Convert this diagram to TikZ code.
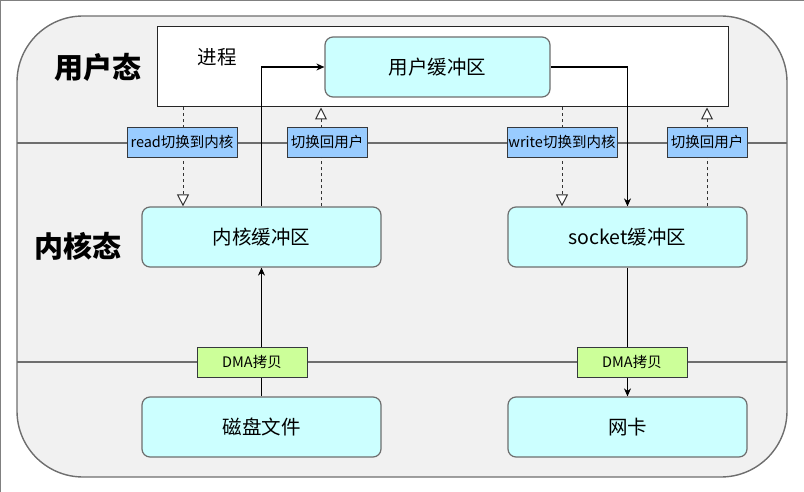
\documentclass[tikz,border=0pt]{standalone}
\usepackage{fontspec}
\setmainfont{Noto Sans CJK SC}
\usetikzlibrary{arrows.meta}
\definecolor{cfond}{RGB}{241,241,241}
\definecolor{ccyan}{RGB}{204,255,255}
\definecolor{cbleu}{RGB}{153,204,255}
\definecolor{cvert}{RGB}{204,255,153}
\definecolor{cgris}{RGB}{110,110,110}
\definecolor{ctrait}{RGB}{54,57,61}
\pgfdeclarelayer{fond}
\pgfdeclarelayer{liens}
\pgfsetlayers{fond,liens,main}

\begin{document}
\begin{tikzpicture}[x=1pt, y=-1pt, >={Stealth[length=8pt,width=7pt]},
  boite/.style={draw=cgris, line width=1.2pt, fill=ccyan, rounded corners=8pt,
    minimum width=239pt, minimum height=60pt, inner sep=0pt, font=\fontsize{19.5}{22}\selectfont},
  bascule/.style={draw=ctrait, line width=0.9pt, fill=cbleu, minimum height=30pt,
    inner sep=0pt, font=\fontsize{14.5}{16}\selectfont},
  dma/.style={draw=ctrait, line width=0.9pt, fill=cvert, minimum width=110pt,
    minimum height=30pt, inner sep=0pt, font=\fontsize{14.5}{16}\selectfont},
  etat/.style={font=\fontsize{29}{32}\selectfont\bfseries},
  appel/.style={dashed, dash pattern=on 3pt off 3pt, line width=1pt, black!80,
    -{Triangle[length=12pt,width=12pt,fill=white]}},
  copie/.style={line width=1.1pt, ->}]
\useasboundingbox (0,0) rectangle (804,492);
\draw[gray, line width=1pt] (0.5,492) -- (0.5,0.5) -- (804,0.5);
\begin{pgfonlayer}{fond}
\draw[cgris, line width=1.4pt, fill=cfond, rounded corners=66pt] (17,16) rectangle (787,477);
\draw[cgris, line width=1.4pt] (17,143) -- (787,143);
\draw[cgris, line width=1.4pt] (17,362) -- (787,362);
\node[draw=black!85, line width=1pt, fill=white, minimum width=571pt, minimum height=80pt] (proc) at (442.5,67) {};
\end{pgfonlayer}
\node[etat] (user) at (98,67) {用户态};
\node[etat] (kernel) at (78,246) {内核态};
\node[font=\fontsize{19.5}{22}\selectfont] (procname) at (217,57) {进程};
\node[boite, minimum width=225pt] (ubuf) at (437.5,67) {用户缓冲区};
\node[boite] (kbuf) at (261.5,237) {内核缓冲区};
\node[boite] (sbuf) at (627.5,237) {socket缓冲区};
\node[boite] (disk) at (261.5,427) {磁盘文件};
\node[boite] (nic) at (627.5,427) {网卡};
\node[bascule, minimum width=110pt] (read) at (182,142) {read切换到内核};
\node[bascule, minimum width=80pt] (back1) at (327,142) {切换回用户};
\node[bascule, minimum width=110pt] (write) at (562,142) {write切换到内核};
\node[bascule, minimum width=80pt] (back2) at (707,142) {切换回用户};
\node[dma] (dma1) at (252,362) {DMA拷贝};
\node[dma] (dma2) at (632,362) {DMA拷贝};
\coordinate (xrd) at (183,0);
\coordinate (xb1) at (321,0);
\coordinate (xwr) at (562,0);
\coordinate (xb2) at (707,0);
\begin{pgfonlayer}{liens}
\draw[appel] (proc.south -| xrd) -- (kbuf.north -| xrd);
\draw[appel] (kbuf.north -| xb1) -- (proc.south -| xb1);
\draw[appel] (proc.south -| xwr) -- (sbuf.north -| xwr);
\draw[appel] (sbuf.north -| xb2) -- (proc.south -| xb2);
\draw[copie] (kbuf.north) |- (ubuf.west);
\draw[copie] (ubuf.east) -| (sbuf.north);
\draw[copie] (disk.north) -- (kbuf.south);
\draw[copie] (sbuf.south) -- (nic.north);
\end{pgfonlayer}
\end{tikzpicture}
\end{document}
